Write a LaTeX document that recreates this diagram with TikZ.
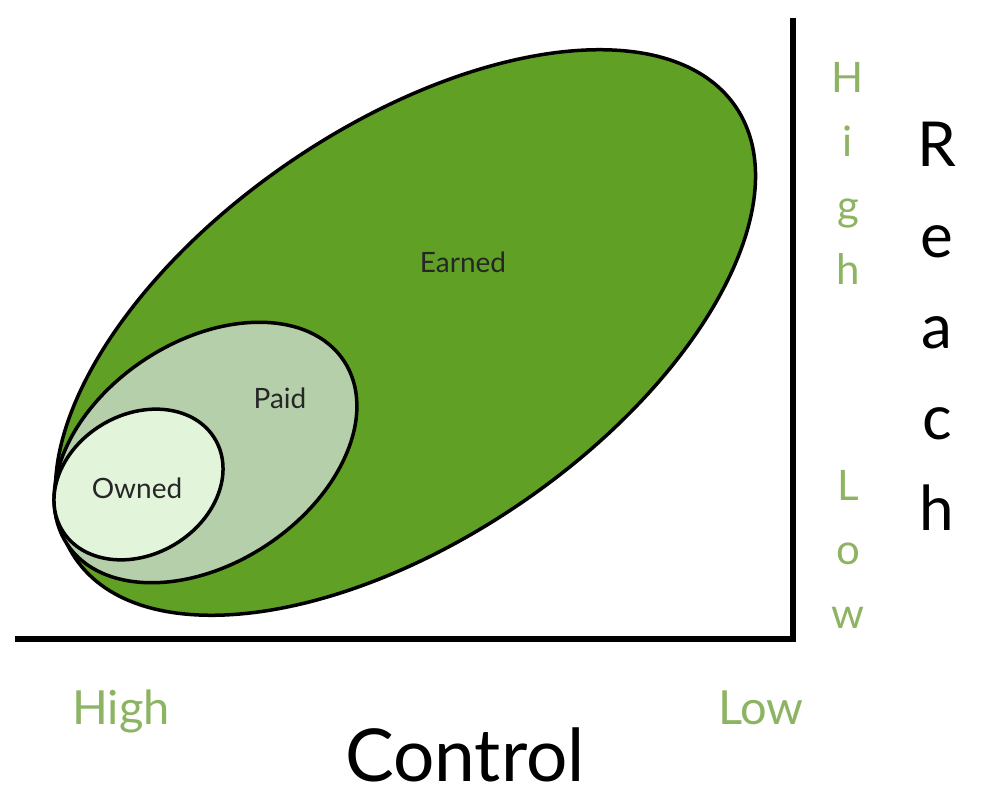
\documentclass[tikz,border=0pt]{standalone}
\usepackage{fontspec}
\setmainfont{Lato}
\usepackage{xcolor}
\usetikzlibrary{positioning, calc}

\definecolor{earnedgreen}{RGB}{96,160,36}
\definecolor{paidgreen}{RGB}{181,207,170}
\definecolor{ownedgreen}{RGB}{226,245,218}
\definecolor{scalegreen}{RGB}{141,180,99}

\begin{document}
\begin{tikzpicture}[
    x=1pt, y=-1pt,
    region/.style={draw=black, line width=3.5pt},
    inlabel/.style={font=\fontsize{28}{30}\selectfont, text=black!85, inner sep=0pt},
    scalelabel/.style={font=\fontsize{47}{50}\selectfont, text=scalegreen, inner sep=0pt},
    stacklabel/.style={font=\fontsize{42}{64}\selectfont, text=scalegreen, align=center, inner sep=0pt},
    axislabel/.style={font=\fontsize{73}{80}\selectfont, text=black, inner sep=0pt},
    reachlabel/.style={font=\fontsize{62}{91}\selectfont, text=black, align=center, inner sep=0pt},
    axis/.style={draw=black, line width=6pt, line join=miter}
]
    \useasboundingbox (0,0) rectangle (987,799);

    % Regions
    \draw [region, fill=earnedgreen, rotate around={34.4:(405.5,332.5)}] (405.5,332.5) ellipse [x radius=400, y radius=206];
    \draw [region, fill=paidgreen, rotate around={33.5:(205.5,452.5)}] (205.5,452.5) ellipse [x radius=166, y radius=111];
    \draw [region, fill=ownedgreen, rotate around={30.5:(138.5,484.5)}] (138.5,484.5) ellipse [x radius=89, y radius=70];

    % Region labels
    \node (earned) [inlabel] at (463,262) {Earned};
    \node (paid) [inlabel] at (280,398) {Paid};
    \node (owned) [inlabel] at (137,488) {Owned};

    % Axes
    \coordinate (ytop) at (793,18);
    \coordinate (corner) at (793,639);
    \coordinate (xleft) at (15,639);
    \draw [axis] (ytop) -- (corner) -- (xleft);

    % Control scale
    \node (ctrl_high) [scalelabel, anchor=base] at (121,724) {High};
    \node (ctrl_low) [scalelabel, anchor=base] at (761,724) {Low};
    \node (control) [axislabel, anchor=base] at (465,781) {Control};

    % Reach scale
    \node (reach_high) [stacklabel, anchor=north] at (848,62) {H\\i\\g\\h};
    \node (reach_low) [stacklabel, anchor=north] at (848,470) {L\\o\\w};
    \node (reach) [reachlabel, anchor=north] at (937,122) {R\\e\\a\\c\\h};

\end{tikzpicture}
\end{document}
